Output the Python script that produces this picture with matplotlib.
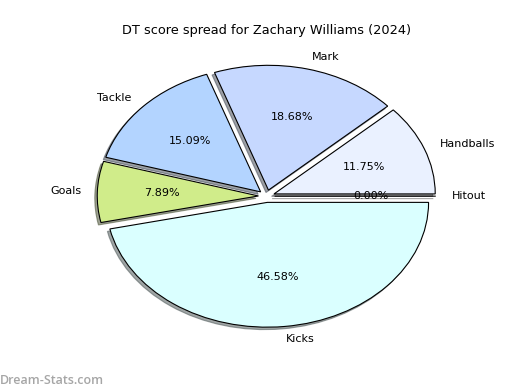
import matplotlib
matplotlib.use("Agg")
import matplotlib.pyplot as plt

labels = ["Handballs", "Mark", "Tackle", "Goals", "Kicks", "Hitout"]
values = [11.75, 18.68, 15.09, 7.89, 46.58, 0.0]
colors = ["#eaf1ff", "#c6d8ff", "#b3d4ff", "#d0ec8a", "#daffff", "#ffffff"]
explode = [0.05, 0.05, 0.05, 0.05, 0.05, 0.05]

fig = plt.figure(figsize=(5.2, 3.9), dpi=100)
ax = fig.add_axes([0.125, 0.097, 0.775, 0.80])
ax.pie(values, labels=labels, colors=colors, explode=explode,
       autopct="%1.2f%%",
       shadow={"ox": -0.011, "oy": -0.014},
       wedgeprops={"edgecolor": "black", "linewidth": 0.8},
       textprops={"fontsize": 8})
ax.set_aspect("auto")
ax.set_title("DT score spread for Zachary Williams (2024)", fontsize=9.25,
             pad=4.5)
fig.text(0.0, 0.015, "Dream-Stats.com", fontsize=9, color="#a6a6a6",
         fontweight="semibold", family="Open Sans")

fig.savefig("out.png", dpi=100)
